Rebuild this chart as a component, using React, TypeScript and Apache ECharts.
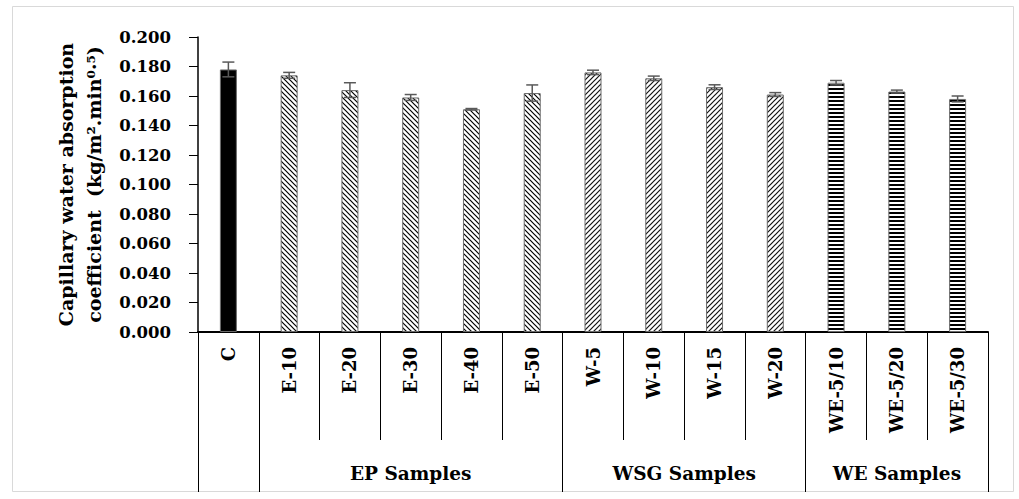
import React, { useEffect, useRef } from "react";
import * as echarts from "echarts";

// ---- data ----
const categories = ["C", "E-10", "E-20", "E-30", "E-40", "E-50", "W-5", "W-10", "W-15", "W-20", "WE-5/10", "WE-5/20", "WE-5/30"];
const values = [0.178, 0.174, 0.164, 0.159, 0.151, 0.162, 0.176, 0.172, 0.166, 0.161, 0.169, 0.163, 0.158];
const errors = [0.005, 0.002, 0.005, 0.002, 0.0005, 0.0055, 0.0015, 0.0015, 0.0016, 0.0013, 0.0015, 0.001, 0.002];
const groupNames = ["", "EP Samples", "WSG Samples", "WE Samples"];
const groupStarts = [0, 1, 6, 10];
const groupCounts = [1, 5, 4, 3];
const groupFills = ["solid", "down", "up", "horiz"];
const yTicks = [0, 0.02, 0.04, 0.06, 0.08, 0.1, 0.12, 0.14, 0.16, 0.18, 0.2];
const yTitle = "Capillary water absorption\ncoefficient  (kg/m\u00B2.min\u2070\u00B7\u2075)";

const FONT = "DejaVu Serif";

function svgUrl(svg: string) {
  return "data:image/svg+xml;charset=utf-8," + encodeURIComponent(svg);
}

function makeFill(kind: string): any {
  if (kind === "solid") return "#000000";
  let svg = "";
  let w = 5, h = 5;
  if (kind === "down") {
    svg = `<svg xmlns='http://www.w3.org/2000/svg' width='5' height='5'><rect width='5' height='5' fill='white'/><path d='M-1,-1 L6,6 M-1,4 L1,6 M4,-1 L6,1' stroke='black' stroke-width='1.2'/></svg>`;
  } else if (kind === "up") {
    svg = `<svg xmlns='http://www.w3.org/2000/svg' width='5' height='5'><rect width='5' height='5' fill='white'/><path d='M-1,6 L6,-1 M-1,1 L1,-1 M4,6 L6,4' stroke='#111' stroke-width='1.2'/></svg>`;
  } else {
    w = 4; h = 4;
    svg = `<svg xmlns='http://www.w3.org/2000/svg' width='4' height='4'><rect width='4' height='4' fill='white'/><rect width='4' height='2' fill='black'/></svg>`;
  }
  return { image: svgUrl(svg), repeat: "repeat", imageWidth: w, imageHeight: h };
}

function groupOf(i: number) {
  for (let g = 0; g < groupStarts.length; g++) {
    if (i >= groupStarts[g] && i < groupStarts[g] + groupCounts[g]) return g;
  }
  return 0;
}

export default function App() {
  const ref = useRef<HTMLDivElement>(null);
  useEffect(() => {
    if (!ref.current) return;
    const chart = echarts.init(ref.current, undefined, { renderer: "svg" });
    const total = groupStarts[groupStarts.length - 1] + groupCounts[groupCounts.length - 1];
    const boundaries = [...groupStarts, total];
    const centers: number[] = [];
    const centerNames: Record<string, string> = {};
    groupNames.forEach((n, g) => {
      if (n) {
        const c = groupStarts[g] + groupCounts[g] / 2;
        centers.push(c);
        centerNames[String(c)] = n;
      }
    });
    const fills = groupFills.map(makeFill);
    const option: any = {
      animation: false,
      backgroundColor: "#ffffff",
      graphic: [
        {
          type: "rect",
          shape: { x: 12.5, y: 6.5, width: 1001, height: 485 },
          style: { fill: "none", stroke: "#d9d9d9", lineWidth: 1 },
          silent: true,
        },
      ],
      grid: { left: 198, right: 31, top: 37, bottom: 167, containLabel: false, outerBoundsMode: "none" },
      xAxis: [
        {
          type: "category",
          data: categories,
          position: "bottom",
          axisLine: { show: true, lineStyle: { color: "#000", width: 2 } },
          axisTick: { show: true, interval: 0, alignWithLabel: false, length: 108, lineStyle: { color: "#000", width: 1 } },
          axisLabel: {
            interval: 0,
            rotate: 90,
            margin: 15,
            color: "#000",
            fontFamily: FONT,
            fontWeight: "bold",
            fontSize: 18,
          },
          splitLine: { show: false },
        },
        {
          type: "value",
          min: 0,
          max: total,
          position: "bottom",
          axisLine: { show: false },
          splitLine: { show: false },
          axisTick: { show: true, customValues: boundaries, length: 160, lineStyle: { color: "#000", width: 1 } },
          axisLabel: {
            customValues: centers,
            formatter: (v: number) => centerNames[String(v)] || "",
            margin: 132,
            color: "#000",
            fontFamily: FONT,
            fontWeight: "bold",
            fontSize: 18.5,
          },
        },
      ],
      yAxis: {
        type: "value",
        min: 0,
        max: 0.2,
        interval: 0.02,
        axisLine: { show: true, lineStyle: { color: "#000", width: 1.5 } },
        axisTick: { show: true, inside: false, length: 9, lineStyle: { color: "#000", width: 1 } },
        splitLine: { show: false },
        axisLabel: {
          margin: 27,
          color: "#000",
          fontFamily: FONT,
          fontWeight: "bold",
          fontSize: 16.5,
          customValues: yTicks,
          formatter: (v: number) => v.toFixed(3),
        },
        name: yTitle,
        nameLocation: "middle",
        nameRotate: 90,
        nameGap: 89,
        nameTextStyle: {
          color: "#000",
          fontFamily: FONT,
          fontWeight: "bold",
          fontSize: 19,
          lineHeight: 28,
        },
      },
      series: [
        {
          type: "bar",
          xAxisIndex: 0,
          yAxisIndex: 0,
          barWidth: 17,
          data: values.map((v, i) => ({
            value: v,
            itemStyle: { color: fills[groupOf(i)], borderColor: "#6b6b6b", borderWidth: 1 },
          })),
          z: 2,
        },
        {
          type: "custom",
          xAxisIndex: 0,
          yAxisIndex: 0,
          z: 10,
          data: values.map((v, i) => [i, v - errors[i], v + errors[i]]),
          renderItem: (params: any, api: any) => {
            const x = api.value(0);
            const lo = api.coord([x, api.value(1)]);
            const hi = api.coord([x, api.value(2)]);
            const hw = 6;
            const st = { stroke: "#595959", lineWidth: 1.5 };
            return {
              type: "group",
              children: [
                { type: "line", shape: { x1: lo[0], y1: lo[1], x2: hi[0], y2: hi[1] }, style: st },
                { type: "line", shape: { x1: hi[0] - hw, y1: hi[1], x2: hi[0] + hw, y2: hi[1] }, style: st },
                { type: "line", shape: { x1: lo[0] - hw, y1: lo[1], x2: lo[0] + hw, y2: lo[1] }, style: st },
              ],
            };
          },
        },
      ],
    };
    chart.setOption(option);
    return () => chart.dispose();
  }, []);
  return (
    <div
      ref={ref}
      style={{ position: "absolute", left: 0, top: 0, width: 1019, height: 499, background: "#fff" }}
    />
  );
}
